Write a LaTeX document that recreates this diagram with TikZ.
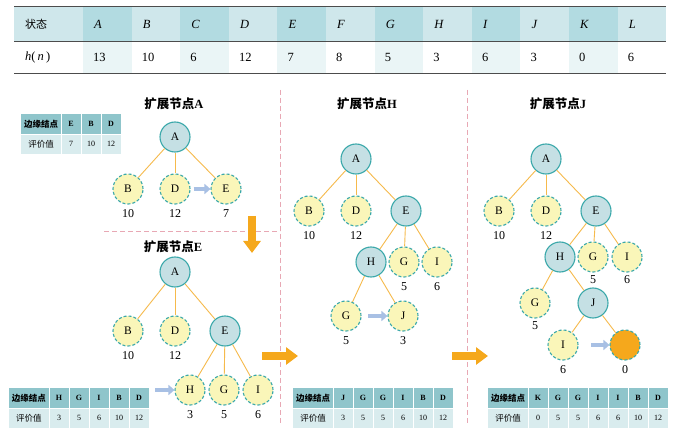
\documentclass[tikz,border=0pt]{standalone}
\usepackage{fontspec}
\setmainfont{Liberation Serif}
\newfontfamily\cjk{Noto Sans CJK SC}
\usetikzlibrary{arrows.meta,positioning}
\definecolor{headlight}{RGB}{207,231,235}
\definecolor{headdark}{RGB}{178,219,225}
\definecolor{rowlight}{RGB}{234,245,246}
\definecolor{fringehead}{RGB}{143,197,203}
\definecolor{fringerow}{RGB}{217,236,238}
\definecolor{nodeteal}{RGB}{58,168,170}
\definecolor{expandfill}{RGB}{197,224,228}
\definecolor{frontierfill}{RGB}{250,246,185}
\definecolor{goalorange}{RGB}{245,168,28}
\definecolor{edgeorange}{RGB}{246,186,76}
\definecolor{hintblue}{RGB}{168,192,228}
\definecolor{dividerpink}{RGB}{232,168,180}
\tikzset{
  expanded/.style={
    circle,
    draw=nodeteal,
    fill=expandfill,
    line width=1.1pt,
    minimum size=30pt,
    inner sep=0pt,
    font=\fontsize{11.5}{13}\selectfont
  },
  frontier/.style={expanded,fill=frontierfill,dash pattern=on 3pt off 2pt},
  goal/.style={frontier,fill=goalorange},
  treeline/.style={draw=edgeorange,line width=0.9pt},
  cost/.style={font=\fontsize{12}{14}\selectfont,inner sep=1pt},
  hint/.style={-{Triangle[length=6pt,width=10pt]},draw=hintblue,line width=4.5pt},
  bigarrow/.style={-{Triangle[length=12pt,width=17pt]},draw=goalorange,line width=7.5pt},
  divider/.style={draw=dividerpink,line width=1pt,dash pattern=on 5pt off 3pt},
  paneltitle/.style={font=\bfseries\fontsize{12.5}{14}\selectfont},
  hcell/.style={anchor=west,inner sep=0pt,font=\fontsize{12.5}{14}\selectfont},
  fringetext/.style={inner sep=0pt,font=\fontsize{8}{9}\selectfont},
  fringecjk/.style={inner sep=0pt,font=\cjk\fontsize{8.5}{9}\selectfont},
  hrule/.style={draw=black!70,line width=1pt}
}
% fringe table: x, y, list of node/value
\newcommand{\fringetable}[3]{%
  \begin{scope}[shift={(#1,#2)}]
    \fill[fringehead] (0,0) rectangle (40,20);
    \fill[fringerow] (0,20) rectangle (40,40);
    \draw[white,line width=0.6pt] (0,20) -- (40,20);
    \node[fringecjk,font=\cjk\bfseries\fontsize{8.5}{9}\selectfont] at (20,10) {边缘结点};
    \node[fringecjk] at (20,30) {评价值};
    \foreach \lbl/\val [count=\i] in {#3} {
      \fill[fringehead] ({20+20*\i},0) rectangle ({40+20*\i},20);
      \fill[fringerow] ({20+20*\i},20) rectangle ({40+20*\i},40);
      \draw[white,line width=0.8pt] ({20+20*\i},0) -- ({20+20*\i},40);
      \draw[white,line width=0.6pt] ({20+20*\i},20) -- ({40+20*\i},20);
      \node[fringetext,font=\bfseries\fontsize{8}{9}\selectfont] at ({30+20*\i},10) {\lbl};
      \node[fringetext] at ({30+20*\i},30) {\val};
    }
  \end{scope}
}

\begin{document}
\begin{tikzpicture}[x=1pt,y=-1pt]
  \useasboundingbox[fill=white] (0,0) rectangle (682,438);

  % Heuristic values
  \fill[headlight] (14,7) rectangle (666,41);
  \foreach \col in {0,2,...,10} {
    \fill[headdark] ({83+48.6*\col},7) rectangle ({83+48.6*(\col+1)},41);
    \fill[rowlight] ({83+48.6*\col},41) rectangle ({83+48.6*(\col+1)},74);
  }
  \draw[hrule] (14,7) -- (666,7);
  \draw[hrule,line width=0.8pt] (14,41) -- (666,41);
  \draw[hrule] (14,74) -- (666,74);
  \node[hcell,font=\cjk\fontsize{11}{13}\selectfont] (statehead) at (25,24) {状态};
  \node[hcell] (hhead) at (25,57) {\textit{h}(\,\textit{n}\,)};
  \foreach \name/\hval [count=\i] in {A/13,B/10,C/6,D/12,E/7,F/8,G/5,H/3,I/6,J/3,K/0,L/6} {
    \node[hcell] (st\name) at ({83+48.6*(\i-1)+11},24) {\textit{\name}};
    \node[hcell] (hv\name) at ({83+48.6*(\i-1)+10},57) {\hval};
  }

  % Panel dividers
  \draw[divider] (280,90) -- (280,425);
  \draw[divider] (467,90) -- (467,425);
  \draw[divider] (104,232) -- (280,232);

  % Expand A
  \node[paneltitle] (titleA) at (174,104) {{\cjk 扩展节点}A};
  \node[expanded] (a1) at (175,137) {A};
  \node[frontier] (b1) at (128,189) {B};
  \node[frontier] (d1) at (175,189) {D};
  \node[frontier] (e1) at (226,189) {E};
  \foreach \child in {b1,d1,e1} \draw[treeline] (a1) -- (\child);
  \node[cost,below=4pt of b1] (b1c) {10};
  \node[cost,below=4pt of d1] (d1c) {12};
  \node[cost,below=4pt of e1] (e1c) {7};
  \draw[hint] ([xshift=3pt]d1.east) -- (e1.west);
  \fringetable{21}{114}{E/7,B/10,D/12}

  \coordinate (downtop) at (252,216);
  \coordinate (downtip) at (252,253);
  \draw[bigarrow] (downtop) -- (downtip);

  % Expand E
  \node[paneltitle] (titleE) at (173,247) {{\cjk 扩展节点}E};
  \node[expanded] (a2) at (175,272) {A};
  \node[frontier] (b2) at (128,331) {B};
  \node[frontier] (d2) at (175,331) {D};
  \node[expanded] (e2) at (225,331) {E};
  \node[frontier] (h2) at (190,390) {H};
  \node[frontier] (g2) at (224,390) {G};
  \node[frontier] (i2) at (258,390) {I};
  \foreach \child in {b2,d2,e2} \draw[treeline] (a2) -- (\child);
  \foreach \child in {h2,g2,i2} \draw[treeline] (e2) -- (\child);
  \node[cost,below=4pt of b2] (b2c) {10};
  \node[cost,below=4pt of d2] (d2c) {12};
  \node[cost,below=4pt of h2] (h2c) {3};
  \node[cost,below=4pt of g2] (g2c) {5};
  \node[cost,below=4pt of i2] (i2c) {6};
  \coordinate (h2in) at (155,390);
  \draw[hint] (h2in) -- (h2.west);
  \fringetable{9}{388}{H/3,G/5,I/6,B/10,D/12}

  \coordinate (rightA) at (262,356);
  \coordinate (rightB) at (298,356);
  \draw[bigarrow] (rightA) -- (rightB);

  % Expand H
  \node[paneltitle] (titleH) at (367,104) {{\cjk 扩展节点}H};
  \node[expanded] (a3) at (356,159) {A};
  \node[frontier] (b3) at (309,211) {B};
  \node[frontier] (d3) at (356,211) {D};
  \node[expanded] (e3) at (406,211) {E};
  \node[expanded] (h3) at (371,262) {H};
  \node[frontier] (g3) at (404,262) {G};
  \node[frontier] (i3) at (437,262) {I};
  \node[frontier] (gg3) at (346,316) {G};
  \node[frontier] (j3) at (403,316) {J};
  \foreach \child in {b3,d3,e3} \draw[treeline] (a3) -- (\child);
  \foreach \child in {h3,g3,i3} \draw[treeline] (e3) -- (\child);
  \foreach \child in {gg3,j3} \draw[treeline] (h3) -- (\child);
  \node[cost,below=4pt of b3] (b3c) {10};
  \node[cost,below=4pt of d3] (d3c) {12};
  \node[cost,below=4pt of g3] (g3c) {5};
  \node[cost,below=4pt of i3] (i3c) {6};
  \node[cost,below=4pt of gg3] (gg3c) {5};
  \node[cost,below=4pt of j3] (j3c) {3};
  \coordinate (j3in) at (368,316);
  \draw[hint] (j3in) -- (j3.west);
  \fringetable{293}{388}{J/3,G/5,G/5,I/6,B/10,D/12}

  \coordinate (rightC) at (452,356);
  \coordinate (rightD) at (488,356);
  \draw[bigarrow] (rightC) -- (rightD);

  % Expand J
  \node[paneltitle] (titleJ) at (558,104) {{\cjk 扩展节点}J};
  \node[expanded] (a4) at (546,159) {A};
  \node[frontier] (b4) at (499,211) {B};
  \node[frontier] (d4) at (546,211) {D};
  \node[expanded] (e4) at (596,211) {E};
  \node[expanded] (h4) at (560,257) {H};
  \node[frontier] (g4) at (593,257) {G};
  \node[frontier] (i4) at (627,257) {I};
  \node[frontier] (gg4) at (535,303) {G};
  \node[expanded] (j4) at (593,303) {J};
  \node[frontier] (ii4) at (563,345) {I};
  \node[goal] (k4) at (625,345) {};
  \foreach \child in {b4,d4,e4} \draw[treeline] (a4) -- (\child);
  \foreach \child in {h4,g4,i4} \draw[treeline] (e4) -- (\child);
  \foreach \child in {gg4,j4} \draw[treeline] (h4) -- (\child);
  \foreach \child in {ii4,k4} \draw[treeline] (j4) -- (\child);
  \node[cost,below=4pt of b4] (b4c) {10};
  \node[cost,below=4pt of d4] (d4c) {12};
  \node[cost,below=2pt of g4] (g4c) {5};
  \node[cost,below=2pt of i4] (i4c) {6};
  \node[cost,below=2pt of gg4] (gg4c) {5};
  \node[cost,below=4pt of ii4] (ii4c) {6};
  \node[cost,below=4pt of k4] (k4c) {0};
  \coordinate (k4in) at (591,345);
  \draw[hint] (k4in) -- (k4.west);
  \fringetable{488}{388}{K/0,G/5,G/5,I/6,I/6,B/10,D/12}
\end{tikzpicture}
\end{document}
